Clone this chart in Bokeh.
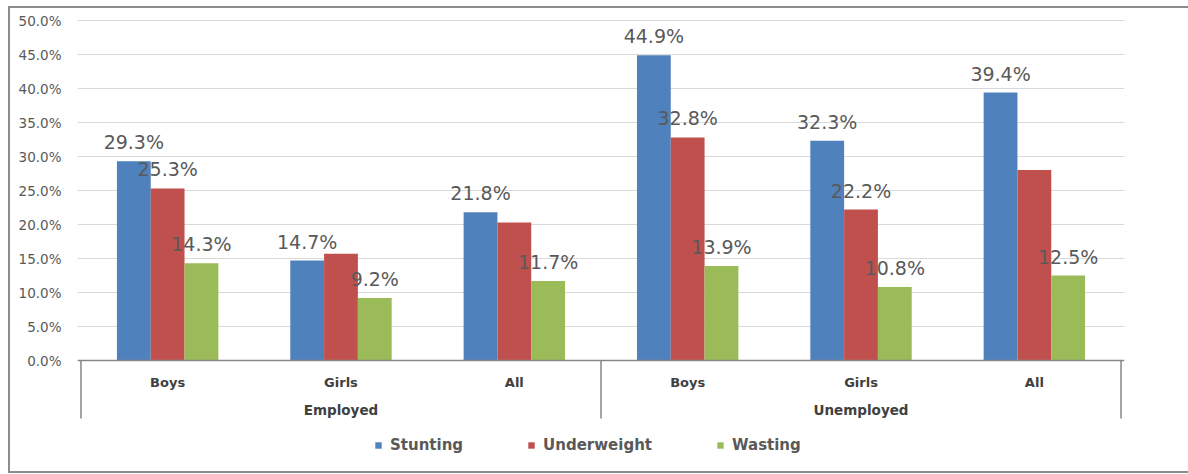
from bokeh.plotting import figure
from bokeh.models import (ColumnDataSource, FactorRange, Range1d, FixedTicker,
                          NumeralTickFormatter, Legend, LegendItem, Span)
from bokeh.transform import dodge
from bokeh.core.properties import value
from bokeh.embed import file_html
from bokeh.resources import INLINE

# ---- data -------------------------------------------------------------
groups = ["Employed", "Unemployed"]
subgroups = ["Boys", "Girls", "All"]
series = ["Stunting", "Underweight", "Wasting"]

stunting = [29.3, 14.7, 21.8, 44.9, 32.3, 39.4]
underweight = [25.3, 15.7, 20.3, 32.8, 22.2, 28.0]
wasting = [14.3, 9.2, 11.7, 13.9, 10.8, 12.5]

# which bars carry a value label
stunting_labeled = [True, True, True, True, True, True]
underweight_labeled = [True, False, False, True, True, False]
wasting_labeled = [True, True, True, True, True, True]

y_ticks = [0.0, 0.05, 0.10, 0.15, 0.20, 0.25, 0.30, 0.35, 0.40, 0.45, 0.50]

colors = ["#4F81BD", "#C0504D", "#9BBB59"]

# ---- styling constants ------------------------------------------------
TEXT_GREY = "#595959"
AXIS_GREY = "#868686"
BAR_W = 0.195
OFFSETS = [-BAR_W, 0.0, BAR_W]
PX = 680  # pixels per unit of the value axis

factors = [(g, s) for g in groups for s in subgroups]

x_range = FactorRange(*factors, group_padding=0, subgroup_padding=0,
                      factor_padding=0, range_padding=0.02,
                      range_padding_units="absolute")
# the frame reaches below zero so the category box and legend sit inside it
y_range = Range1d(-106 / PX, 0.5 + 1 / PX)

# thin grey chart border (left, top, bottom) painted behind a transparent
# canvas border, anchored to the page
line = "linear-gradient(#8C8C8C, #8C8C8C)"
border_sheet = (
    ":host {"
    f" background-image: {line}, {line}, {line};"
    " background-position: 8px 6px, 8px 6px, 8px 471px;"
    " background-size: 2px 467px, 1180px 2px, 1180px 2px;"
    " background-repeat: no-repeat;"
    " background-attachment: fixed;"
    " }"
)

p = figure(width=1188, height=474, x_range=x_range, y_range=y_range,
           output_backend="svg", toolbar_location=None, title=None,
           min_border_left=77, min_border_right=64,
           min_border_top=19, min_border_bottom=8,
           stylesheets=[border_sheet])
p.background_fill_color = "white"
p.border_fill_color = None
p.outline_line_color = None

# y axis: percentage ticks, no line
p.yaxis.ticker = FixedTicker(ticks=y_ticks)
p.yaxis.formatter = NumeralTickFormatter(format="0.0%")
p.yaxis.axis_line_color = None
p.yaxis.major_tick_line_color = None
p.yaxis.minor_tick_line_color = None
p.yaxis.major_label_standoff = 10
p.yaxis.major_label_text_font = "DejaVu Sans"
p.yaxis.major_label_text_font_size = "13.5px"
p.yaxis.major_label_text_color = TEXT_GREY

p.xaxis.visible = False
p.xgrid.visible = False
p.ygrid.ticker = FixedTicker(ticks=y_ticks[1:])
p.ygrid.grid_line_color = "#D9D9D9"
p.ygrid.grid_line_width = 1

# ---- bars ---------------------------------------------------------------
values = [stunting, underweight, wasting]
flags = [stunting_labeled, underweight_labeled, wasting_labeled]
renderers = []
for name, vals, col, off in zip(series, values, colors, OFFSETS):
    src = ColumnDataSource(dict(x=factors, top=[v / 100 for v in vals]))
    r = p.vbar(x=dodge("x", off, range=p.x_range), top="top", bottom=0,
               width=BAR_W, source=src, fill_color=col, line_color=None)
    renderers.append((name, r))

# value labels
for vals, flag, off in zip(values, flags, OFFSETS):
    keep = [i for i, f in enumerate(flag) if f]
    lsrc = ColumnDataSource(dict(
        x=[factors[i] for i in keep],
        y=[vals[i] / 100 for i in keep],
        t=[f"{vals[i]:.1f}%" for i in keep],
    ))
    p.text(x=dodge("x", off, range=p.x_range), y="y", text="t", source=lsrc,
           text_align="center", text_baseline="alphabetic", y_offset=-19,
           text_font=value("DejaVu Sans"), text_font_size="19px",
           text_color=TEXT_GREY)

# ---- category axis box ---------------------------------------------------
p.add_layout(Span(location=0, dimension="width", line_color=AXIS_GREY,
                  line_width=1.5))
bounds = [i * len(subgroups) for i in range(len(groups) + 1)]
p.segment(x0=bounds, x1=bounds, y0=[0] * len(bounds),
          y1=[-58 / PX] * len(bounds), line_color=AXIS_GREY, line_width=1.5)

p.text(x=factors, y=[-22 / PX] * len(factors),
       text=[s for _, s in factors], text_align="center",
       text_baseline="middle", text_font=value("DejaVu Sans"),
       text_font_style="bold", text_font_size="13px", text_color="#404040")
p.text(x=groups, y=[-49 / PX] * len(groups), text=groups,
       text_align="center", text_baseline="middle",
       text_font=value("DejaVu Sans"), text_font_style="bold",
       text_font_size="13.5px", text_color="#404040")

# ---- legend -------------------------------------------------------------
legend = Legend(items=[LegendItem(label=n, renderers=[r]) for n, r in renderers],
                orientation="horizontal", location=(297, 11),
                glyph_width=8, glyph_height=8, label_standoff=8, spacing=64,
                label_height=20, padding=0, margin=0,
                border_line_color=None, background_fill_alpha=0,
                label_text_font="DejaVu Sans", label_text_font_style="bold",
                label_text_font_size="15px", label_text_color=TEXT_GREY)
p.add_layout(legend, "center")

open("out.html", "w").write(file_html(p, INLINE))
